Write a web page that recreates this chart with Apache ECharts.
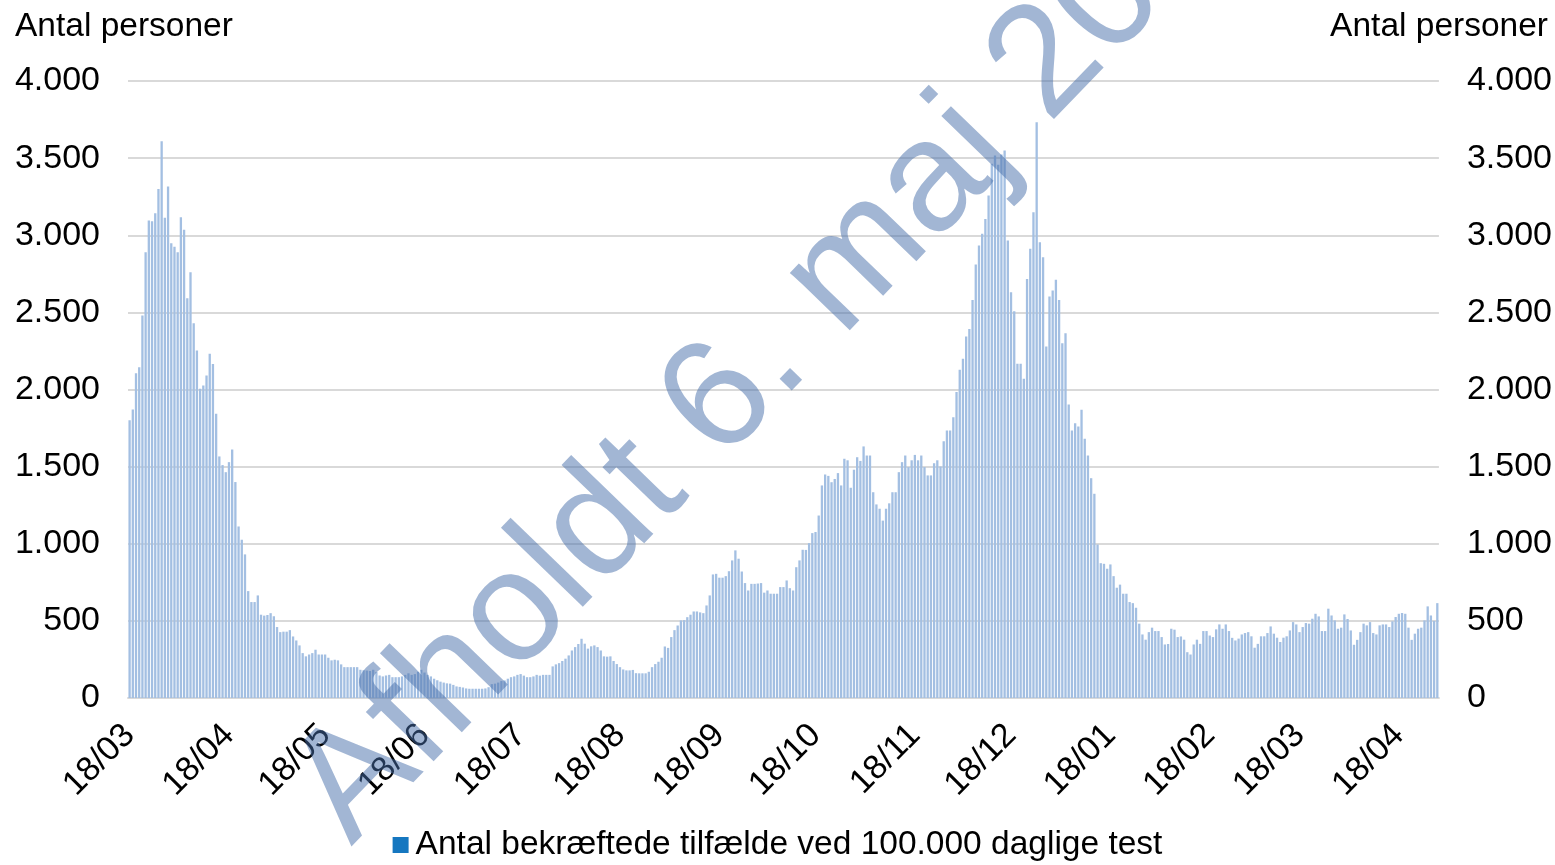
<!DOCTYPE html>
<html>
<head>
<meta charset="utf-8">
<script src="https://cdn.jsdelivr.net/npm/echarts@6/dist/echarts.min.js"></script>
<style>
  html, body { margin: 0; padding: 0; background: #fff; }
  #chart { width: 1555px; height: 865px; }
</style>
</head>
<body>
<div id="chart"></div>
<script>
// daily series, first day 18/03/2020, last day 30/04/2021
const startDate = [2020, 2, 18]
const yTicks = [0, 500, 1000, 1500, 2000, 2500, 3000, 3500, 4000]
const axisTitle = 'Antal personer'
const seriesName = 'Antal bekræftede tilfælde ved 100.000 daglige test'
const watermark = 'Afholdt 6. maj 2021'

const cases = [
  1800, 1870, 2106, 2145, 2480, 2890, 3095, 3090, 3143, 3300,
  3610, 3113, 3316, 2948, 2926, 2890, 3117, 3035, 2592, 2760,
  2430, 2253, 2005, 2026, 2091, 2231, 2166, 1842, 1566, 1510,
  1464, 1529, 1611, 1400, 1112, 1026, 931, 693, 622, 622,
  665, 540, 534, 538, 550, 530, 460, 427, 430, 430,
  440, 399, 373, 341, 291, 270, 282, 291, 313, 282,
  282, 282, 261, 244, 248, 244, 218, 200, 200, 200,
  200, 200, 183, 180, 178, 175, 183, 168, 146, 140,
  146, 150, 135, 135, 135, 140, 150, 160, 150, 155,
  170, 183, 165, 150, 140, 125, 115, 106, 100, 95,
  93, 85, 75, 72, 68, 62, 60, 60, 60, 60,
  60, 62, 70, 90, 93, 100, 110, 114, 125, 135,
  140, 150, 155, 145, 135, 135, 140, 150, 145, 150,
  150, 150, 205, 218, 226, 240, 255, 276, 308, 330,
  350, 384, 352, 320, 335, 341, 330, 308, 270, 268,
  270, 240, 220, 200, 185, 179, 179, 182, 161, 160,
  160, 160, 170, 200, 220, 235, 261, 334, 325, 395,
  440, 470, 503, 505, 524, 540, 561, 561, 555, 550,
  600, 665, 801, 805, 780, 780, 790, 822, 892, 957,
  903, 820, 745, 697, 740, 740, 742, 745, 683, 697,
  676, 676, 676, 719, 719, 762, 712, 697, 848, 892,
  961, 960, 1004, 1069, 1076, 1183, 1378, 1449, 1440, 1399,
  1420, 1458, 1378, 1551, 1541, 1363, 1480, 1561, 1537, 1631,
  1572, 1572, 1334, 1255, 1227, 1150, 1227, 1262, 1334, 1334,
  1464, 1529, 1572, 1497, 1541, 1576, 1541, 1572, 1497, 1443,
  1443, 1522, 1541, 1501, 1665, 1734, 1734, 1820, 1983, 2128,
  2200, 2343, 2393, 2581, 2810, 2933, 3009, 3106, 3257, 3463,
  3517, 3457, 3524, 3549, 2966, 2631, 2507, 2167, 2167, 2069,
  2717, 2912, 3149, 3732, 2955, 2857, 2279, 2603, 2642, 2711,
  2581, 2300, 2365, 1903, 1734, 1781, 1760, 1868, 1680, 1572,
  1425, 1324, 995, 874, 870, 838, 866, 790, 715, 735,
  676, 676, 622, 615, 585, 482, 412, 378, 427, 456,
  434, 434, 395, 347, 350, 449, 443, 395, 399, 378,
  297, 282, 347, 378, 351, 434, 434, 405, 395, 445,
  477, 449, 477, 434, 390, 373, 385, 412, 421, 427,
  400, 326, 351, 400, 400, 421, 464, 417, 391, 363,
  391, 400, 438, 492, 477, 427, 460, 486, 482, 514,
  546, 529, 434, 434, 579, 535, 503, 449, 456, 542,
  512, 438, 345, 377, 427, 482, 471, 492, 421, 412,
  471, 477, 477, 460, 497, 525, 546, 551, 546, 456,
  377, 417, 449, 456, 503, 594, 535, 500, 615
]

const days = cases.map((_, i) => {
  const d = new Date(startDate[0], startDate[1], startDate[2] + i)
  return String(d.getDate()).padStart(2, '0') + '/' + String(d.getMonth() + 1).padStart(2, '0')
})

const font = "'Liberation Sans', Arial, sans-serif"
const fmt = v => String(v).replace(/\B(?=(\d{3})+(?!\d))/g, '.')

const yAxisBase = {
  type: 'value',
  min: yTicks[0],
  max: yTicks[yTicks.length - 1],
  interval: yTicks[1] - yTicks[0],
  axisLine: { show: false },
  axisTick: { show: false },
}

const chart = echarts.init(document.getElementById('chart'))
chart.setOption({
  animation: false,
  backgroundColor: '#fff',
  textStyle: { fontFamily: font },
  grid: { left: 128, right: 115, top: 81, bottom: 167, containLabel: false },
  xAxis: {
    type: 'category',
    data: days,
    axisLine: { lineStyle: { color: '#d9d9d9', width: 2 } },
    axisTick: { show: false },
    axisLabel: {
      interval: (idx, val) => val.startsWith('18/'),
      rotate: 45,
      margin: 32,
      color: '#000',
      fontSize: 34,
      fontFamily: font,
    },
  },
  yAxis: [
    {
      ...yAxisBase,
      position: 'left',
      splitLine: { lineStyle: { color: '#d9d9d9', width: 2 } },
      axisLabel: { formatter: fmt, color: '#000', fontSize: 34, fontFamily: font, margin: 28 },
    },
    {
      ...yAxisBase,
      position: 'right',
      splitLine: { show: false },
      axisLabel: { formatter: fmt, color: '#000', fontSize: 34, fontFamily: font, margin: 28 },
    },
  ],
  legend: {
    left: 'center',
    top: 823,
    itemWidth: 16,
    itemHeight: 16,
    itemGap: 10,
    icon: 'rect',
    data: [{ name: seriesName, itemStyle: { color: '#1577c0' } }],
    textStyle: { color: '#000', fontSize: 33.5, fontFamily: font, padding: [0, 0, 0, 2] },
  },
  graphic: [
    {
      type: 'text', left: 15, top: 10,
      style: { text: axisTitle, fill: '#000', font: '33.5px ' + font },
    },
    {
      type: 'text', right: 7, top: 10,
      style: { text: axisTitle, fill: '#000', font: '33.5px ' + font },
    },
    {
      type: 'text', x: 790, y: 330, rotation: 46 * Math.PI / 180, z: 100,
      style: {
        text: watermark,
        fill: 'rgba(70, 110, 170, 0.5)',
        font: '157px ' + font,
        align: 'center',
        verticalAlign: 'middle',
      },
    },
  ],
  series: [
    {
      name: seriesName,
      type: 'bar',
      data: cases,
      barWidth: '72%',
      itemStyle: { color: '#a3bfe2' },
    },
  ],
})
</script>
</body>
</html>
